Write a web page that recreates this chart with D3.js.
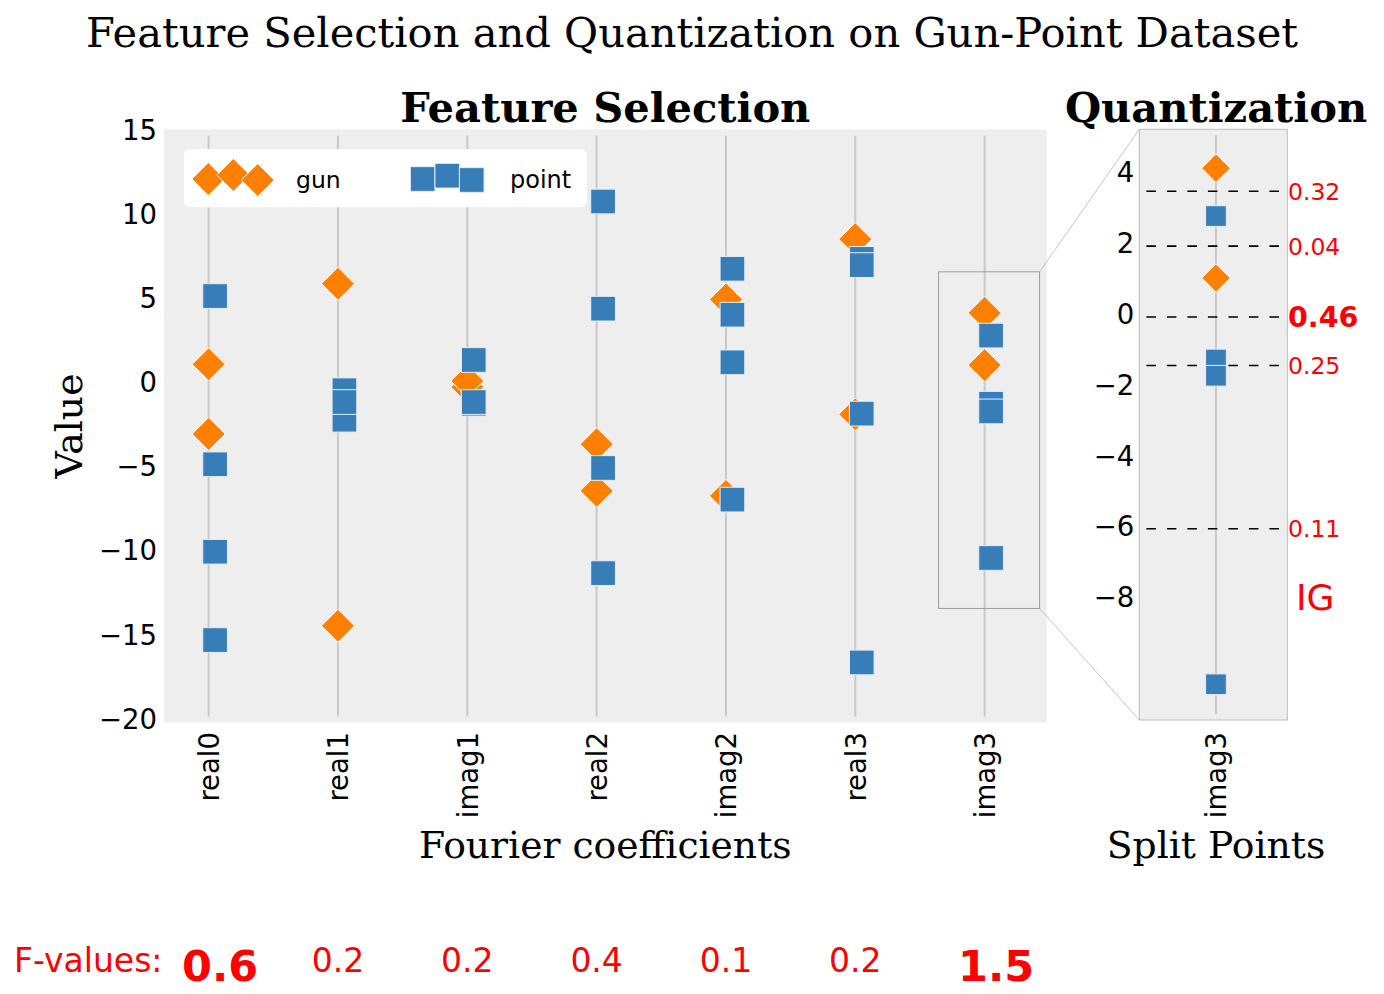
<!DOCTYPE html>
<html><head><meta charset="utf-8">
<script src="https://cdn.jsdelivr.net/npm/d3@7"></script>
<style>body{margin:0;background:#fff}</style>
</head><body><svg id="c" width="1384" height="994"></svg>
<script>
// ---------- data ----------
const categories = ["real0","real1","imag1","real2","imag2","real3","imag3"];
const gunValues = [
  [1.04, -3.1],
  [5.83, -14.5],
  [-0.3, 0.05],
  [-3.71, -6.48],
  [4.9, -6.78],
  [8.48, -1.93],
  [4.1, 1.0]
];
const pointValues = [
  [5.1, -4.9, -10.1, -15.35],
  [-2.25, -0.5, -1.2],
  [1.3, -1.3, -1.2],
  [10.72, 4.35, -5.12, -11.37],
  [6.72, 3.99, 1.16, -7.0],
  [7.31, 6.94, -1.89, -16.68],
  [2.75, -1.3, -1.76, -10.47]
];
const fValues = ["0.6","0.2","0.2","0.4","0.1","0.2","1.5"];
const selectedFeatures = ["real0","imag3"];
const yTicks = [15,10,5,0,-5,-10,-15,-20];
const insetCategory = "imag3";
const insetTicks = [4,2,0,-2,-4,-6,-8];
const splitPoints = [3.45, 1.9, -0.1, -1.47, -6.08];
const igValues = ["0.32","0.04","0.46","0.25","0.11"];
const bestIG = "0.46";
const zoomRegion = {x0: 5.644, x1: 6.425, y0: -13.47, y1: 6.54};

// ---------- style ----------
const SERIF = "'DejaVu Serif', serif", SANS = "'DejaVu Sans', sans-serif";
const ORANGE = "#ff7f00", BLUE = "#377eb8", BG = "#eeeeee", RED = "#ff0000";
const fmt = d => d < 0 ? "\u2212" + Math.abs(d) : String(d);
const TICK = 27.5;

const svg = d3.select("#c");

// ---------- main panel ----------
const M = {l:164, r:1046.7, t:129.5, b:722.5};
const x = d3.scaleLinear().domain([-0.345, 6.48]).range([M.l, M.r]);
const y = d3.scaleLinear().domain([-20.25, 15]).range([M.b, M.t]);
const mh = M.b - M.t;

svg.append("rect").attr("x",M.l).attr("y",M.t).attr("width",M.r-M.l).attr("height",mh).attr("fill",BG);

svg.append("g").selectAll("line").data(categories).join("line")
  .attr("x1",(d,i)=>x(i)).attr("x2",(d,i)=>x(i))
  .attr("y1",M.t+0.01*mh).attr("y2",M.b-0.01*mh)
  .attr("stroke","#c8c8c8").attr("stroke-width",2);

const yAxis = d3.axisLeft(y).tickValues(yTicks).tickSize(0).tickPadding(7).tickFormat(fmt);
const gy = svg.append("g").attr("transform",`translate(${M.l},0)`).call(yAxis);
gy.select(".domain").remove();
gy.selectAll("text").attr("font-family",SANS).attr("font-size",TICK).attr("fill","#000").attr("dy","0.36em");

// x tick labels (rotated)
svg.append("g").selectAll("text").data(categories).join("text")
  .attr("transform",(d,i)=>`translate(${x(i)},732) rotate(-90)`)
  .attr("text-anchor","end").attr("dy","0.38em")
  .attr("font-family",SANS).attr("font-size",TICK).text(d=>d);

function diamond(h){ return `M0,${-h}L${h},0L0,${h}L${-h},0Z`; }

// gun markers
const gunFlat = [];
gunValues.forEach((vals,i)=>vals.forEach(v=>gunFlat.push({i,v})));
svg.append("g").selectAll("path").data(gunFlat).join("path")
  .attr("d",diamond(16.5))
  .attr("transform",d=>`translate(${x(d.i)},${y(d.v)})`)
  .attr("fill",ORANGE).attr("stroke","#fff").attr("stroke-width",1);

// point markers
const ptFlat = [];
pointValues.forEach((vals,i)=>vals.forEach(v=>ptFlat.push({i,v})));
const sq = 24.7;
svg.append("g").selectAll("rect").data(ptFlat).join("rect")
  .attr("x",d=>x(d.i+0.05)-sq/2).attr("y",d=>y(d.v)-sq/2)
  .attr("width",sq).attr("height",sq)
  .attr("fill",BLUE).attr("stroke","#e8eef6").attr("stroke-width",1);

// legend
const lg = svg.append("g");
lg.append("rect").attr("x",184).attr("y",149).attr("width",402.7).attr("height",58.3)
  .attr("rx",6).attr("fill","#fff");
[[208.3,179],[233.3,175],[257.7,180]].forEach(([lx,ly])=>{
  lg.append("path").attr("d",diamond(16.5)).attr("transform",`translate(${lx},${ly})`)
    .attr("fill",ORANGE).attr("stroke","#fff").attr("stroke-width",1);
});
lg.append("text").attr("x",296).attr("y",187.5).attr("font-family",SANS).attr("font-size",23.5).text("gun");
[[422.7,179],[447.3,175.7],[471.7,180]].forEach(([lx,ly])=>{
  lg.append("rect").attr("x",lx-sq/2).attr("y",ly-sq/2).attr("width",sq).attr("height",sq)
    .attr("fill",BLUE).attr("stroke","#e8eef6").attr("stroke-width",1);
});
lg.append("text").attr("x",510).attr("y",187.5).attr("font-family",SANS).attr("font-size",24).text("point");

// zoom box
const zi = categories.indexOf(insetCategory);
svg.append("rect").attr("x",x(zoomRegion.x0)).attr("y",y(zoomRegion.y1))
  .attr("width",x(zoomRegion.x1)-x(zoomRegion.x0)).attr("height",y(zoomRegion.y0)-y(zoomRegion.y1))
  .attr("fill","none").attr("stroke","#9a9a9a").attr("stroke-width",1);

// ---------- inset panel ----------
const I = {l:1139.3, r:1287.3, t:129.3, b:720};
const xI = d3.scaleLinear().domain([-0.518, 0.482]).range([I.l, I.r]);
const yI = d3.scaleLinear().domain([-11.48, 5.2]).range([I.b, I.t]);
const ih = I.b - I.t;

svg.append("line").attr("x1",x(zoomRegion.x1)).attr("y1",y(zoomRegion.y1)).attr("x2",I.l).attr("y2",I.t)
  .attr("stroke","#b5b5b5").attr("stroke-width",0.8);
svg.append("line").attr("x1",x(zoomRegion.x1)).attr("y1",y(zoomRegion.y0)).attr("x2",I.l).attr("y2",I.b)
  .attr("stroke","#b5b5b5").attr("stroke-width",0.8);

svg.append("rect").attr("x",I.l).attr("y",I.t).attr("width",I.r-I.l).attr("height",ih)
  .attr("fill",BG).attr("stroke","#bcbcbc").attr("stroke-width",1);
svg.append("line").attr("x1",xI(0)).attr("x2",xI(0)).attr("y1",I.t+0.01*ih).attr("y2",I.b-0.01*ih)
  .attr("stroke","#c8c8c8").attr("stroke-width",2);

const yAxisI = d3.axisLeft(yI).tickValues(insetTicks).tickSize(0).tickPadding(5).tickFormat(fmt);
const gyi = svg.append("g").attr("transform",`translate(${I.l},0)`).call(yAxisI);
gyi.select(".domain").remove();
gyi.selectAll("text").attr("font-family",SANS).attr("font-size",TICK).attr("fill","#000").attr("dy","0.36em");

svg.append("text").attr("transform",`translate(${xI(0)},732) rotate(-90)`)
  .attr("text-anchor","end").attr("dy","0.38em")
  .attr("font-family",SANS).attr("font-size",TICK).text(insetCategory);

// split lines
svg.append("g").selectAll("line").data(splitPoints).join("line")
  .attr("x1",xI(-0.47)).attr("x2",xI(0.443)).attr("y1",d=>yI(d)).attr("y2",d=>yI(d))
  .attr("stroke","#000").attr("stroke-width",1.6).attr("stroke-dasharray","9.5,11");

svg.append("g").selectAll("path").data(gunValues[zi]).join("path")
  .attr("d",diamond(14.3)).attr("transform",d=>`translate(${xI(0)},${yI(d)})`)
  .attr("fill",ORANGE).attr("stroke","#fff").attr("stroke-width",1);
const sqi = 20.7;
svg.append("g").selectAll("rect").data(pointValues[zi]).join("rect")
  .attr("x",xI(0)-sqi/2).attr("y",d=>yI(d)-sqi/2).attr("width",sqi).attr("height",sqi)
  .attr("fill",BLUE).attr("stroke","#e8eef6").attr("stroke-width",1);

svg.append("g").selectAll("text").data(splitPoints).join("text")
  .attr("x",1288).attr("y",d=>yI(d)).attr("dy","0.36em")
  .attr("font-family",SANS).attr("fill",RED)
  .attr("font-size",(d,i)=>igValues[i]===bestIG?28.5:23.5)
  .attr("font-weight",(d,i)=>igValues[i]===bestIG?"bold":"normal")
  .text((d,i)=>igValues[i]);
svg.append("text").attr("x",1296).attr("y",yI(-8)).attr("dy","0.36em")
  .attr("font-family",SANS).attr("font-size",36).attr("fill",RED).text("IG");

// ---------- titles & labels ----------
svg.append("text").attr("x",692).attr("y",46.5).attr("text-anchor","middle")
  .attr("font-family",SERIF).attr("font-size",41.6).text("Feature Selection and Quantization on Gun-Point Dataset");
svg.append("text").attr("x",(M.l+M.r)/2).attr("y",121.7).attr("text-anchor","middle")
  .attr("font-family",SERIF).attr("font-weight","bold").attr("font-size",41.6).text("Feature Selection");
svg.append("text").attr("x",1216).attr("y",121.7).attr("text-anchor","middle")
  .attr("font-family",SERIF).attr("font-weight","bold").attr("font-size",41.6).text("Quantization");
svg.append("text").attr("transform",`translate(82,${(M.t+M.b)/2}) rotate(-90)`).attr("text-anchor","middle")
  .attr("font-family",SERIF).attr("font-size",37.7).text("Value");
svg.append("text").attr("x",(M.l+M.r)/2).attr("y",858.3).attr("text-anchor","middle")
  .attr("font-family",SERIF).attr("font-size",37.7).text("Fourier coefficients");
svg.append("text").attr("x",1216).attr("y",858.3).attr("text-anchor","middle")
  .attr("font-family",SERIF).attr("font-size",37.7).text("Split Points");

// F-values row
svg.append("text").attr("x",14).attr("y",972).attr("font-family",SANS).attr("font-size",33)
  .attr("fill",RED).text("F-values:");
svg.append("g").selectAll("text").data(categories).join("text")
  .attr("x",(d,i)=>x(i) + (selectedFeatures.includes(d)?11.5:0))
  .attr("y",d=>selectedFeatures.includes(d)?981:972)
  .attr("text-anchor","middle").attr("font-family",SANS).attr("fill",RED)
  .attr("font-size",d=>selectedFeatures.includes(d)?43:33)
  .attr("font-weight",d=>selectedFeatures.includes(d)?"bold":"normal")
  .text((d,i)=>fValues[i]);
</script></body></html>
